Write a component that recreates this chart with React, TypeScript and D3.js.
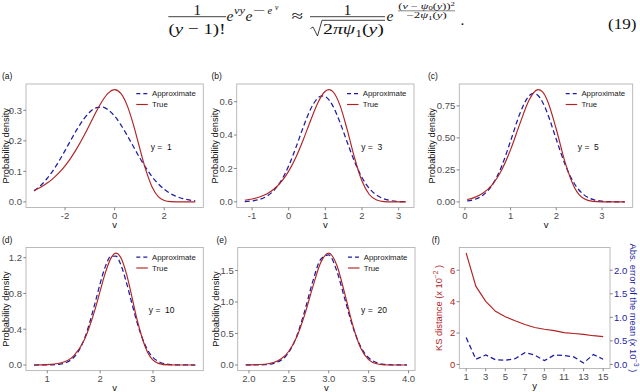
import React from "react";
import * as d3 from "d3";

// ---------- data ----------
const vA = [-3.25,-3,-2.75,-2.5,-2.25,-2,-1.75,-1.5,-1.25,-1,-0.75,-0.5,-0.25,0,0.25,0.5,0.75,1,1.25,1.5,1.75,2,2.25,2.5,2.75,3,3.25];
const trueA = [0.0373,0.0474,0.0600,0.0756,0.0949,0.1182,0.1460,0.1785,0.2151,0.2546,0.2945,0.3307,0.3574,0.3679,0.3556,0.3170,0.2549,0.1794,0.1064,0.0507,0.0182,0.0046,0.0007,0.0001,0,0,0];
const approxA = [0.0355,0.0522,0.0741,0.1011,0.1329,0.1681,0.2048,0.2401,0.2711,0.2946,0.3083,0.3105,0.3011,0.2811,0.2526,0.2186,0.1821,0.1460,0.1128,0.0838,0.0600,0.0413,0.0274,0.0175,0.0108,0.0064,0.0036];

const vB = [-1.2,-1,-0.8,-0.6,-0.4,-0.2,0,0.2,0.4,0.6,0.8,0.9,1,1.1,1.2,1.4,1.6,1.8,2,2.2,2.4,2.6,2.8,3,3.2];
const trueB = [0.0101,0.0172,0.0289,0.0477,0.0770,0.1210,0.1839,0.2686,0.3734,0.4891,0.5953,0.6359,0.6627,0.6721,0.6615,0.5779,0.4291,0.2611,0.1247,0.0442,0.0109,0.0017,0.0002,0,0];
const approxB = [0.0021,0.0059,0.0148,0.0337,0.0693,0.1287,0.2160,0.3277,0.4491,0.5564,0.6228,0.6344,0.6300,0.6101,0.5760,0.4758,0.3552,0.2396,0.1461,0.0805,0.0401,0.0180,0.0073,0.0027,0.0009];

const vC = [0.05,0.2,0.4,0.6,0.8,1,1.2,1.4,1.5,1.6,1.7,1.8,2,2.2,2.4,2.6,2.8,3,3.2,3.5];
const trueC = [0.0187,0.0334,0.0693,0.1353,0.2457,0.4081,0.6076,0.7919,0.8524,0.8771,0.8590,0.7960,0.5672,0.3003,0.1107,0.0262,0.0036,0.0003,0,0];
const approxC = [0.0070,0.0180,0.0535,0.1327,0.2749,0.4754,0.6862,0.8267,0.8479,0.8313,0.7790,0.6977,0.4888,0.2858,0.1395,0.0568,0.0193,0.0055,0.0013,0.0001];

const vD = [0.75,1,1.25,1.5,1.7,1.9,2,2.1,2.2,2.3,2.4,2.5,2.6,2.7,2.9,3.1,3.3,3.5,3.8];
const trueD = [0.0006,0.0040,0.0225,0.1019,0.2792,0.6140,0.8262,1.0325,1.1891,1.2511,1.1912,1.0158,0.7668,0.5058,0.1386,0.0183,0.0010,0,0];
const approxD = [0,0.0007,0.0104,0.0838,0.2893,0.6831,0.9102,1.1026,1.2146,1.2167,1.1081,0.9178,0.6911,0.4732,0.1668,0.0402,0.0066,0.0007,0];

const vE = [1.96,2.2,2.4,2.5,2.6,2.7,2.8,2.9,3,3.1,3.2,3.3,3.4,3.5,3.6,3.7,3.8,3.98];
const trueE = [0.0007,0.0127,0.0941,0.2182,0.4477,0.8028,1.2404,1.6257,1.7764,1.5875,1.1361,0.6360,0.2714,0.0858,0.0195,0.0031,0.0003,0];
const approxE = [0.0001,0.0054,0.0737,0.2034,0.4619,0.8630,1.3269,1.6785,1.7470,1.4961,1.0543,0.6112,0.2916,0.1145,0.0370,0.0098,0.0022,0.0001];

const yValues = [1,2,3,4,5,6,7,8,9,10,11,12,13,14,15];
const ksDistance = [7.10,4.97,4.02,3.38,3.04,2.78,2.54,2.35,2.24,2.15,2.03,1.97,1.91,1.83,1.77]; // x 1e-2
const absErrMean = [0.57,0.11,0.20,0.10,0.09,0.12,0.25,0.20,0.08,0.20,0.19,0.16,0.03,0.21,0.11]; // x 1e-3

const xTicksA = [-2,0,2]; const yTicksA = [0,0.1,0.2,0.3];
const xTicksB = [-1,0,1,2,3]; const yTicksB = [0,0.2,0.4,0.6];
const xTicksC = [0,1,2,3]; const yTicksC = [0,0.25,0.5,0.75];
const xTicksD = [1,2,3]; const yTicksD = [0,0.4,0.8,1.2];
const xTicksE = [2,2.5,3,3.5,4]; const yTicksE = [0,0.5,1,1.5];
const xTicksF = [1,3,5,7,9,11,13,15]; const yTicksFLeft = [0,2,4,6]; const yTicksFRight = [0,0.5,1,1.5,2];
const secFactor = 3; // right axis value * 3 = left axis value

// ---------- style ----------
const RED = "#B22222";
const BLUE = "#1c1ca3";
const SANS = "'Liberation Sans', Arial, sans-serif";
const SERIF = "'Liberation Serif', 'DejaVu Serif', serif";
const BORDER = "#b3b3b3";
const TICKTXT = "#4d4d4d";

function expand(ext: [number, number]): [number, number] {
  const d = (ext[1] - ext[0]) * 0.05;
  return [ext[0] - d, ext[1] + d];
}

type DP = {
  label: string; yNum: number;
  v: number[]; tru: number[]; approx: number[];
  xTicks: number[]; yTicks: number[]; xFmt: (n: number) => string; yFmt: (n: number) => string;
  l: number; r: number; t: number; b: number; titleX: number; annX: number; labelX: number; labelY: number;
};

function DensityPanel({ p }: { p: DP }) {
  const x = d3.scaleLinear().domain(expand(d3.extent(p.v) as [number, number])).range([p.l, p.r]);
  const ymax = d3.max([...p.tru, ...p.approx]) as number;
  const y = d3.scaleLinear().domain(expand([0, ymax])).range([p.b, p.t]);
  const mk = (vals: number[]) =>
    d3.line<number>().x((_, i) => x(p.v[i])).y((d) => y(d)).curve(d3.curveMonotoneX)(vals) || "";
  const cy = (p.t + p.b) / 2;
  const lx = p.r - 67;
  return (
    <g>
      <text x={p.labelX} y={p.labelY} fontSize={8.5} fontFamily={SANS} fill="#111">{p.label}</text>
      <rect x={p.l} y={p.t} width={p.r - p.l} height={p.b - p.t} fill="none" stroke={BORDER} strokeWidth={0.9} />
      {p.xTicks.map((t) => (
        <g key={"x" + t}>
          <line x1={x(t)} x2={x(t)} y1={p.b} y2={p.b + 2.75} stroke="#555" strokeWidth={0.7} />
          <text x={x(t)} y={p.b + 11} textAnchor="middle" fontSize={9.5} fontFamily={SANS} fill={TICKTXT}>{p.xFmt(t)}</text>
        </g>
      ))}
      {p.yTicks.map((t) => (
        <g key={"y" + t}>
          <line x1={p.l - 2.75} x2={p.l} y1={y(t)} y2={y(t)} stroke="#555" strokeWidth={0.7} />
          <text x={p.l - 4} y={y(t)} dy="0.35em" textAnchor="end" fontSize={9.5} fontFamily={SANS} fill={TICKTXT}>{p.yFmt(t)}</text>
        </g>
      ))}
      <text x={(p.l + p.r) / 2} y={p.b + 20.5} textAnchor="middle" fontSize={9.5} fontFamily={SANS} fill="#111">v</text>
      <text transform={`translate(${p.titleX},${cy}) rotate(-90)`} dy="0.35em" textAnchor="middle" fontSize={9.3} fontFamily={SANS} fill="#111">Probability density</text>
      <path d={mk(p.approx)} fill="none" stroke={BLUE} strokeWidth={1.25} strokeDasharray="5,3" />
      <path d={mk(p.tru)} fill="none" stroke={RED} strokeWidth={1.15} />
      <line x1={lx} x2={lx + 11.5} y1={p.t + 9.5} y2={p.t + 9.5} stroke={BLUE} strokeWidth={1.25} strokeDasharray="4,3" />
      <line x1={lx} x2={lx + 11.5} y1={p.t + 20.5} y2={p.t + 20.5} stroke={RED} strokeWidth={1.15} />
      <text x={lx + 15.7} y={p.t + 9.5} dy="0.35em" fontSize={7.8} fontFamily={SANS} fill="#1a1a1a">Approximate</text>
      <text x={lx + 15.7} y={p.t + 20.5} dy="0.35em" fontSize={7.8} fontFamily={SANS} fill="#1a1a1a">True</text>
      <text x={p.annX} y={p.t + 63} dy="0.35em" textAnchor="middle" fontSize={8.5} fontFamily={SANS} fill="#111" style={{ whiteSpace: "pre" }}>{"y =  " + p.yNum}</text>
    </g>
  );
}

function KSPanel() {
  const l = 459.3, r = 610, t = 247.5, b = 368.5;
  const x = d3.scaleLinear().domain(expand([1, 15])).range([l, r]);
  const all = [...ksDistance, ...absErrMean.map((d) => d * secFactor)];
  const y = d3.scaleLinear().domain(expand([d3.min(all) as number, d3.max(all) as number])).range([b, t]);
  const ksLine = d3.line<number>().x((_, i) => x(yValues[i])).y((d) => y(d))(ksDistance) || "";
  const errLine = d3.line<number>().x((_, i) => x(yValues[i])).y((d) => y(d * secFactor))(absErrMean) || "";
  const cy = (t + b) / 2;
  return (
    <g>
      <text x={431.7} y={243} fontSize={8.5} fontFamily={SANS} fill="#111">(f)</text>
      <rect x={l} y={t} width={r - l} height={b - t} fill="none" stroke={BORDER} strokeWidth={0.9} />
      {xTicksF.map((tk) => (
        <g key={"x" + tk}>
          <line x1={x(tk)} x2={x(tk)} y1={b} y2={b + 2.75} stroke="#555" strokeWidth={0.7} />
          <text x={x(tk)} y={b + 11} textAnchor="middle" fontSize={9.5} fontFamily={SANS} fill={TICKTXT}>{tk}</text>
        </g>
      ))}
      {yTicksFLeft.map((tk) => (
        <g key={"l" + tk}>
          <line x1={l - 2.75} x2={l} y1={y(tk)} y2={y(tk)} stroke="#555" strokeWidth={0.7} />
          <text x={l - 4} y={y(tk)} dy="0.35em" textAnchor="end" fontSize={9.5} fontFamily={SANS} fill={RED}>{tk}</text>
        </g>
      ))}
      {yTicksFRight.map((tk) => (
        <g key={"r" + tk}>
          <line x1={r} x2={r + 2.75} y1={y(tk * secFactor)} y2={y(tk * secFactor)} stroke="#555" strokeWidth={0.7} />
          <text x={r + 4} y={y(tk * secFactor)} dy="0.35em" textAnchor="start" fontSize={9.5} fontFamily={SANS} fill={BLUE}>{tk.toFixed(1)}</text>
        </g>
      ))}
      <text x={(l + r) / 2} y={b + 20.5} textAnchor="middle" fontSize={9.5} fontFamily={SANS} fill="#111">y</text>
      <text transform={`translate(438.3,${cy}) rotate(-90)`} dy="0.35em" textAnchor="middle" fontSize={9.3} fontFamily={SANS} fill={RED}>
        KS distance (x 10<tspan dy={-3.5} fontSize={6.5}>−2</tspan><tspan dy={3.5}> )</tspan>
      </text>
      <text transform={`translate(633.3,${cy}) rotate(90)`} dy="0.35em" textAnchor="middle" fontSize={9.3} fontFamily={SANS} fill={BLUE}>
        Abs. error of the mean (x 10<tspan dy={-3.5} fontSize={6.5}>−3</tspan><tspan dy={3.5}> )</tspan>
      </text>
      <path d={ksLine} fill="none" stroke={RED} strokeWidth={1.15} />
      <path d={errLine} fill="none" stroke={BLUE} strokeWidth={1.25} strokeDasharray="5,3" />
    </g>
  );
}

function Formula() {
  const c = "#111";
  return (
    <g fontFamily={SERIF} fill={c}>
      <text x={197.2} y={14.5} fontSize={15} textAnchor="middle">1</text>
      <line x1={168.3} x2={226} y1={16.7} y2={16.7} stroke={c} strokeWidth={0.8} />
      <text x={168.5} y={34} fontSize={15.5} textLength={57} lengthAdjust="spacingAndGlyphs">(<tspan fontStyle="italic">y</tspan> − 1)!</text>
      <text x={226.5} y={20.5} fontSize={15.5} fontStyle="italic">e</text>
      <text x={234} y={13.5} fontSize={10.5} fontStyle="italic" textLength={11} lengthAdjust="spacingAndGlyphs">vy</text>
      <text x={245.5} y={20.5} fontSize={15.5} fontStyle="italic">e</text>
      <text x={253.3} y={13.5} fontSize={10.5} textLength={12.5} lengthAdjust="spacingAndGlyphs">−</text>
      <text x={267.5} y={13.5} fontSize={10.5} fontStyle="italic">e</text>
      <text x={275} y={9.5} fontSize={7.5} fontStyle="italic">v</text>
      <text x={291.5} y={21} fontSize={16} textLength={11.5} lengthAdjust="spacingAndGlyphs">≈</text>
      <text x={347.5} y={14.5} fontSize={15} textAnchor="middle">1</text>
      <line x1={310} x2={385} y1={16.7} y2={16.7} stroke={c} strokeWidth={0.8} />
      <path d="M310.5,28.5 L313,27 L317.5,36 L322,20.3 L385,20.3" fill="none" stroke={c} strokeWidth={0.8} />
      <text x={323} y={34} fontSize={15.5} textLength={61} lengthAdjust="spacingAndGlyphs">
        2<tspan fontStyle="italic">πψ</tspan><tspan fontSize={10.5} dy={3}>1</tspan><tspan dy={-3}>(</tspan><tspan fontStyle="italic">y</tspan>)
      </text>
      <text x={386.5} y={20.5} fontSize={15.5} fontStyle="italic">e</text>
      <text x={398.3} y={8.5} fontSize={8.5} textLength={56.5} lengthAdjust="spacingAndGlyphs">
        (<tspan fontStyle="italic">v</tspan> − <tspan fontStyle="italic">ψ</tspan><tspan fontSize={6} dy={1.8}>0</tspan><tspan dy={-1.8}>(</tspan><tspan fontStyle="italic">y</tspan>))<tspan fontSize={6} dy={-3}>2</tspan>
      </text>
      <line x1={398} x2={455} y1={10.8} y2={10.8} stroke={c} strokeWidth={0.5} />
      <text x={406.7} y={18} fontSize={8.5} textLength={40} lengthAdjust="spacingAndGlyphs">
        −2<tspan fontStyle="italic">ψ</tspan><tspan fontSize={6} dy={1.8}>1</tspan><tspan dy={-1.8}>(</tspan><tspan fontStyle="italic">y</tspan>)
      </text>
      <text x={460.5} y={25} fontSize={15.5}>.</text>
      <text x={608} y={28.5} fontSize={15.5} textLength={28.5} lengthAdjust="spacingAndGlyphs">(19)</text>
    </g>
  );
}

const f1 = (n: number) => n.toFixed(1);
const f2 = (n: number) => n.toFixed(2);
const f0 = (n: number) => String(n);

const panels: DP[] = [
  { label: "(a)", yNum: 1, v: vA, tru: trueA, approx: approxA, xTicks: xTicksA, yTicks: yTicksA, xFmt: f0, yFmt: f1,
    l: 26, r: 203.3, t: 84, b: 207.5, titleX: 5.5, annX: 161.2, labelX: 2, labelY: 79 },
  { label: "(b)", yNum: 3, v: vB, tru: trueB, approx: approxB, xTicks: xTicksB, yTicks: yTicksB, xFmt: f0, yFmt: f1,
    l: 236.7, r: 414, t: 84, b: 207.5, titleX: 215, annX: 371.7, labelX: 211.5, labelY: 79 },
  { label: "(c)", yNum: 5, v: vC, tru: trueC, approx: approxC, xTicks: xTicksC, yTicks: yTicksC, xFmt: f0, yFmt: f2,
    l: 459.3, r: 632.7, t: 84, b: 207.5, titleX: 432, annX: 588.3, labelX: 428, labelY: 79 },
  { label: "(d)", yNum: 10, v: vD, tru: trueD, approx: approxD, xTicks: xTicksD, yTicks: yTicksD, xFmt: f0, yFmt: f1,
    l: 26, r: 203.3, t: 247.5, b: 370.6, titleX: 5.5, annX: 161.7, labelX: 2, labelY: 243 },
  { label: "(e)", yNum: 20, v: vE, tru: trueE, approx: approxE, xTicks: xTicksE, yTicks: yTicksE, xFmt: f1, yFmt: f1,
    l: 237.7, r: 415, t: 247.5, b: 370.6, titleX: 216, annX: 374, labelX: 216.5, labelY: 243 },
];

export default function App() {
  return (
    <svg width={640} height={392} viewBox="0 0 640 392"
      style={{ position: "absolute", left: 0, top: 0, background: "#fff", display: "block" }}>
      <rect x={0} y={0} width={640} height={392} fill="#fff" />
      <Formula />
      {panels.map((p) => <DensityPanel key={p.label} p={p} />)}
      <KSPanel />
    </svg>
  );
}
